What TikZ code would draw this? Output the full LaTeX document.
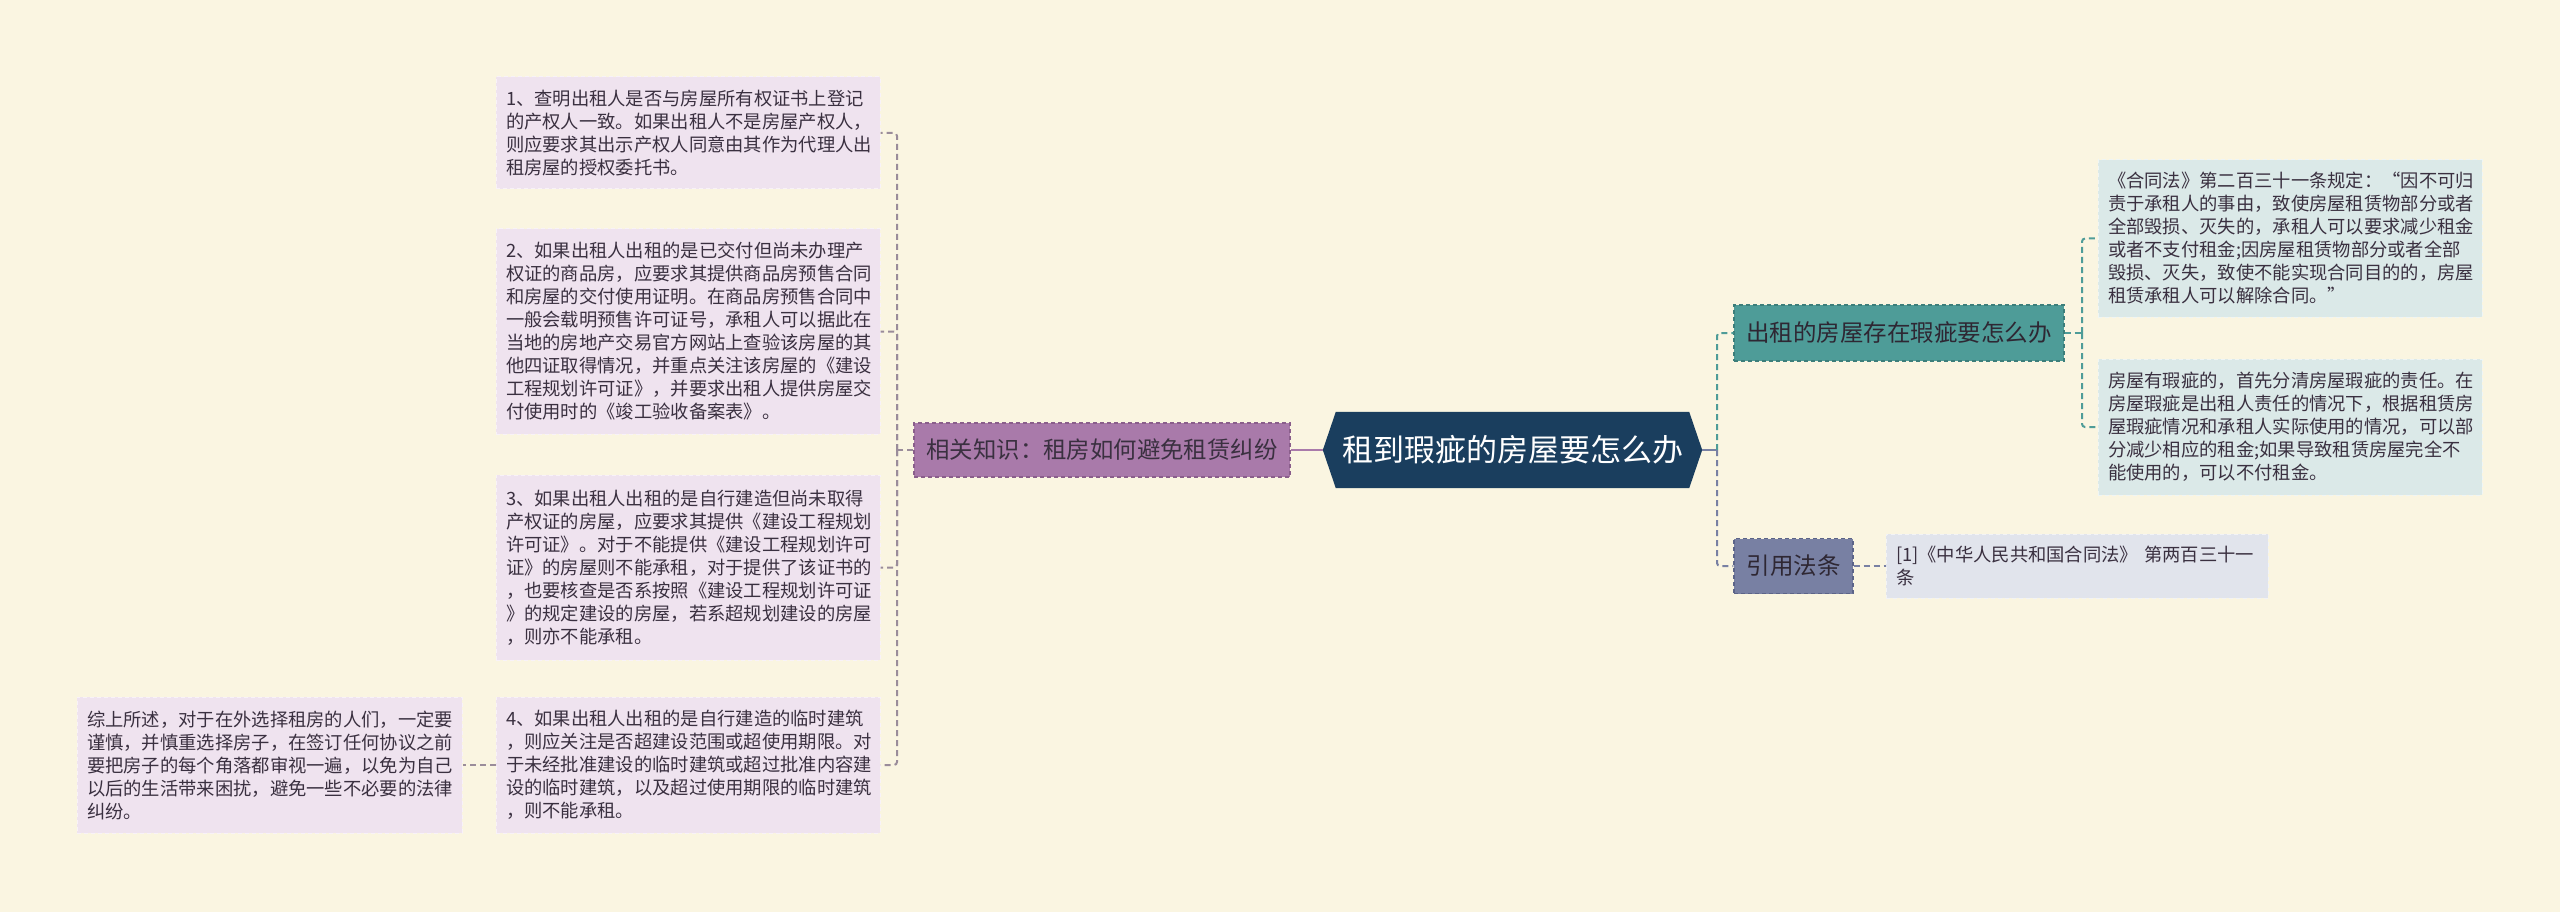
\documentclass[tikz,border=0pt]{standalone}
\usepackage{fontspec}
\setmainfont{Noto Sans CJK SC}
\usetikzlibrary{backgrounds}
\definecolor{bg}{HTML}{FAF5E1}
\definecolor{lfill}{HTML}{EFE3EF}
\definecolor{rfill}{HTML}{DBE9E8}
\definecolor{cfill}{HTML}{E1E4EC}
\definecolor{relfill}{HTML}{A97AAA}
\definecolor{relborder}{HTML}{8A5E8B}
\definecolor{rootfill}{HTML}{1A3E5E}
\definecolor{tealfill}{HTML}{4E9C98}
\definecolor{tealborder}{HTML}{3C7E7A}
\definecolor{slatefill}{HTML}{7880A3}
\definecolor{slateborder}{HTML}{5C6488}
\definecolor{leaftext}{HTML}{3A3040}
\definecolor{lconn}{HTML}{9A8C9A}
\tikzset{
  leafbase/.style={inner ysep=0pt, inner xsep=10pt, align=left, anchor=center,
    font=\fontsize{18.3}{23}\selectfont, text=leaftext,
    dash pattern=on 4pt off 3pt, line width=1pt},
  lbox/.style={leafbase, fill=lfill, draw=white!55!lfill},
  rbox/.style={leafbase, fill=rfill, draw=white!55!rfill},
  cbox/.style={leafbase, fill=cfill, draw=white!55!cfill},
  relbox/.style={fill=relfill, draw=relborder, dash pattern=on 4pt off 3pt, line width=1.2pt,
    font=\fontsize{23.4}{28}\selectfont, text=leaftext, inner sep=0pt, anchor=center},
  brbox/.style={dash pattern=on 4pt off 3pt, line width=1.2pt,
    font=\fontsize{23.5}{28}\selectfont, text=leaftext!80!black, inner sep=0pt, anchor=center},
  rootbox/.style={font=\fontsize{31}{36}\selectfont, text=white, inner sep=0pt, anchor=center},
  conn/.style={line width=2pt, dash pattern=on 6pt off 4pt, rounded corners=3pt},
}
\begin{document}
\begin{tikzpicture}[x=1pt,y=-1pt]
\begin{scope}[on background layer]
\fill[bg] (0,0) rectangle (2560,912);
\end{scope}
\useasboundingbox (0,0) rectangle (2560,912);

% root
\node[rootbox, minimum width=379pt, minimum height=76pt] (root) at (1512.5,450) {租到瑕疵的房屋要怎么办};
\begin{scope}[on background layer]
\fill[rootfill] (root.west) -- ([xshift=13pt]root.north west) -- ([xshift=-13pt]root.north east)
  -- (root.east) -- ([xshift=-13pt]root.south east) -- ([xshift=13pt]root.south west) -- cycle;
\end{scope}

% related knowledge
\node[relbox, minimum width=376pt, minimum height=54pt] (rel) at (1102,450) {相关知识：租房如何避免租赁纠纷};

% left leaves
\node[lbox, text width=364pt, minimum height=112pt] (b1) at (688,133)
  {1、查明出租人是否与房屋所有权证书上登记\\的产权人一致。如果出租人不是房屋产权人，\\则应要求其出示产权人同意由其作为代理人出\\租房屋的授权委托书。};
\node[lbox, text width=364pt, minimum height=205pt] (b2) at (688,331.5)
  {2、如果出租人出租的是已交付但尚未办理产\\权证的商品房，应要求其提供商品房预售合同\\和房屋的交付使用证明。在商品房预售合同中\\一般会载明预售许可证号，承租人可以据此在\\当地的房地产交易官方网站上查验该房屋的其\\他四证取得情况，并重点关注该房屋的《建设\\工程规划许可证》，并要求出租人提供房屋交\\付使用时的《竣工验收备案表》。};
\node[lbox, text width=364pt, minimum height=185pt] (b3) at (688,567.5)
  {3、如果出租人出租的是自行建造但尚未取得\\产权证的房屋，应要求其提供《建设工程规划\\许可证》。对于不能提供《建设工程规划许可\\证》的房屋则不能承租，对于提供了该证书的\\，也要核查是否系按照《建设工程规划许可证\\》的规定建设的房屋，若系超规划建设的房屋\\，则亦不能承租。};
\node[lbox, text width=364pt, minimum height=136pt] (b4) at (688,765)
  {4、如果出租人出租的是自行建造的临时建筑\\，则应关注是否超建设范围或超使用期限。对\\于未经批准建设的临时建筑或超过批准内容建\\设的临时建筑，以及超过使用期限的临时建筑\\，则不能承租。};
\node[lbox, text width=365pt, minimum height=136pt] (b5) at (269.5,765)
  {综上所述，对于在外选择租房的人们，一定要\\谨慎，并慎重选择房子，在签订任何协议之前\\要把房子的每个角落都审视一遍，以免为自己\\以后的生活带来困扰，避免一些不必要的法律\\纠纷。};

% right branches
\node[brbox, fill=tealfill, draw=tealborder, minimum width=330pt, minimum height=56pt] (br1) at (1899,333) {出租的房屋存在瑕疵要怎么办};
\node[brbox, fill=slatefill, draw=slateborder, minimum width=119pt, minimum height=55pt] (br2) at (1793.5,566) {引用法条};

% right leaves
\node[rbox, text width=364pt, minimum height=157pt] (r1) at (2290,238.5)
  {《合同法》第二百三十一条规定：“因不可归\\责于承租人的事由，致使房屋租赁物部分或者\\全部毁损、灭失的，承租人可以要求减少租金\\或者不支付租金;因房屋租赁物部分或者全部\\毁损、灭失，致使不能实现合同目的的，房屋\\租赁承租人可以解除合同。”};
\node[rbox, text width=364pt, minimum height=136pt] (r2) at (2290,427)
  {房屋有瑕疵的，首先分清房屋瑕疵的责任。在\\房屋瑕疵是出租人责任的情况下，根据租赁房\\屋瑕疵情况和承租人实际使用的情况，可以部\\分减少相应的租金;如果导致租赁房屋完全不\\能使用的，可以不付租金。};
\node[cbox, text width=362pt, minimum height=64pt] (cite) at (2077,566)
  {[1]《中华人民共和国合同法》 第两百三十一\\条};

% connectors
\coordinate (spL) at (897,450);
\coordinate (spR) at (1717,450);
\coordinate (spR2) at (2082,333);

\draw[line width=2.5pt, relfill] (root.west) -- (rel.east);
\draw[conn, lconn] (rel.west) -- (spL);
\draw[conn, lconn] (spL) |- (b1.east);
\draw[conn, lconn] (spL) |- (b2.east);
\draw[conn, lconn] (spL) |- (b3.east);
\draw[conn, lconn] (spL) |- (b4.east);
\draw[conn, lconn] (b4.west) -- (b5.east);

\draw[line width=2.5pt, slatefill] (root.east) -- (spR);
\draw[conn, tealfill] (spR) |- (br1.west);
\draw[conn, slatefill] (spR) |- (br2.west);
\draw[conn, tealfill] (br1.east) -- (spR2);
\draw[conn, tealfill] (spR2) |- (r1.west);
\draw[conn, tealfill] (spR2) |- (r2.west);
\draw[conn, slatefill] (br2.east) -- (cite.west);
\end{tikzpicture}
\end{document}
